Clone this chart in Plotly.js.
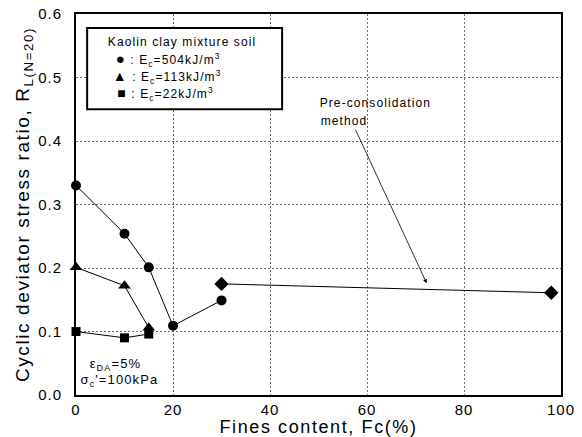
<!DOCTYPE html>
<html>
<head>
<meta charset="utf-8">
<script src="https://cdn.plot.ly/plotly-3.0.1.min.js"></script>
<style>
html,body{margin:0;padding:0;background:#fff;}
#chart{width:582px;height:437px;}
#chart .xtick text, #chart .ytick text {letter-spacing: 1px;}
#chart .xtitle, #chart .ytitle {letter-spacing: 1.6px;}
#chart .annotation-text {letter-spacing: 1.1px;}
</style>
</head>
<body>
<div id="chart"></div>
<script>
// Data
const fcCircle = [0, 10, 15, 20, 30];
const rCircle = [0.33, 0.254, 0.201, 0.109, 0.149];
const fcTriangle = [0, 10, 15];
const rTriangle = [0.201, 0.172, 0.106];
const fcSquare = [0, 10, 15];
const rSquare = [0.1, 0.09, 0.096];
const fcDiamond = [30, 98];
const rDiamond = [0.175, 0.161];
const xTicks = [0, 20, 40, 60, 80, 100];
const yTicks = [0.0, 0.1, 0.2, 0.3, 0.4, 0.5, 0.6];
const xTickText = ['0', '20', '40', '60', '80', '100'];
const yTickText = ['0.0', '0.1', '0.2', '0.3', '0.4', '0.5', '0.6'];

const FONT = 'Liberation Sans, Arial, sans-serif';

function tr(x, y, sym, size) {
  return {
    x: x, y: y, type: 'scatter', mode: 'lines+markers',
    line: {color: '#000', width: 1},
    marker: {symbol: sym, size: size, color: '#000'},
    showlegend: false, hoverinfo: 'skip', cliponaxis: false
  };
}

const data = [
  tr(fcCircle, rCircle, 'circle', 10),
  tr(fcTriangle, rTriangle, 'triangle-up', 11),
  tr(fcSquare, rSquare, 'square', 9),
  tr(fcDiamond, rDiamond, 'diamond', 11)
];

const PH = 381, PW = 485;
function px(x) { return (x - 76) / PW; }
function py(y) { return (395 - y) / PH; }

function note(cx, cy, text, size) {
  return {xref: 'paper', yref: 'paper', x: px(cx), y: py(cy), xanchor: 'center', yanchor: 'middle',
    text: text, showarrow: false, font: {family: FONT, size: size, color: '#000'}};
}

const layout = {
  width: 582, height: 437,
  margin: {l: 76, r: 21, t: 14, b: 42},
  paper_bgcolor: '#fff', plot_bgcolor: '#fff',
  font: {family: FONT, color: '#000', size: 14},
  xaxis: {
    range: [0, 100], tickvals: xTicks, ticktext: xTickText,
    showgrid: true, gridcolor: '#666', griddash: '2px,2px', gridwidth: 1,
    zeroline: false, showline: true, linecolor: '#000', linewidth: 2, mirror: true,
    ticks: '', ticklabelstandoff: 0,
    tickfont: {family: FONT, size: 15, color: '#000'},
    title: {text: 'Fines content, Fc(%)', font: {family: FONT, size: 18, color: '#000'}, standoff: 3}
  },
  yaxis: {
    range: [0, 0.6], tickvals: yTicks, ticktext: yTickText,
    showgrid: true, gridcolor: '#666', griddash: '2px,2px', gridwidth: 1,
    zeroline: false, showline: true, linecolor: '#000', linewidth: 2, mirror: true,
    ticks: '', ticklabelstandoff: 9,
    tickfont: {family: FONT, size: 15, color: '#000'},
    title: {text: 'Cyclic deviator stress ratio, R<sub>L(N=20)</sub>', font: {family: FONT, size: 19, color: '#000'}, standoff: 6}
  },
  shapes: [
    {type: 'rect', xref: 'x', yref: 'y', x0: 2.3, x1: 42.5, y0: 0.450, y1: 0.578,
     line: {color: '#000', width: 2}, fillcolor: '#fff', layer: 'above'}
  ],
  annotations: [
    note(181.5, 42, 'Kaolin clay mixture soil', 12),
    note(168, 60, '<span style="font-size:15px">●</span> : E<sub>c</sub>=504kJ/m<sup>3</sup>', 12),
    note(167.5, 77, '<span style="font-size:14px">▲</span> : E<sub>c</sub>=113kJ/m<sup>3</sup>', 12),
    note(165, 94, '<span style="font-size:14px">■</span> : E<sub>c</sub>=22kJ/m<sup>3</sup>', 12),
    note(375, 103, 'Pre-consolidation', 12),
    note(344, 121, 'method', 12),
    {xref: 'x', yref: 'y', x: 72.3, y: 0.176, ax: 57.5, ay: 0.42, axref: 'x', ayref: 'y',
     text: '', showarrow: true, arrowhead: 2, arrowsize: 1, arrowwidth: 0.8, arrowcolor: '#000'},
    note(115.5, 364, 'ε<sub>DA</sub>=5%', 13),
    note(119.5, 380, 'σ<sub>c</sub>\'=100kPa', 13)
  ]
};

Plotly.newPlot('chart', data, layout, {displayModeBar: false, staticPlot: true});
</script>
</body>
</html>
